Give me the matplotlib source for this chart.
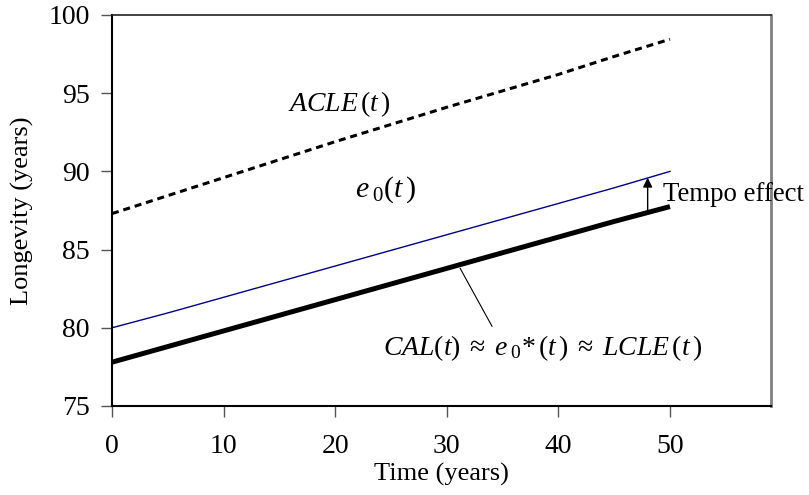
import numpy as np
import matplotlib.pyplot as plt

plt.rcParams['font.family'] = ['Liberation Serif', 'DejaVu Serif']
plt.rcParams['mathtext.fontset'] = 'custom'
plt.rcParams['mathtext.rm'] = 'Liberation Serif'
plt.rcParams['mathtext.it'] = 'Liberation Serif:italic'
plt.rcParams['mathtext.fallback'] = 'stix'

# data
t = [0, 5, 10, 15, 20, 25, 30, 35, 40, 45, 50]
acle = [87.3, 88.45, 89.6, 90.75, 91.9, 93.0, 94.1, 95.15, 96.2, 97.35, 98.45]
e0 = [80.0, 80.95, 81.95, 82.95, 83.95, 84.95, 85.95, 86.95, 87.95, 88.95, 90.0]
cal = [77.8, 78.8, 79.8, 80.8, 81.8, 82.8, 83.8, 84.8, 85.8, 86.8, 87.75]

x_ticks = [0, 10, 20, 30, 40, 50]
y_ticks = [75, 80, 85, 90, 95, 100]

fs = 19
mfs = 20

fig = plt.figure(figsize=(8.09, 4.95), dpi=100)
ax = fig.add_axes([0.1384, 0.1798, 0.8146, 0.7899])

ax.plot(t, acle, color='black', lw=2.2, linestyle=(0, (2.3, 1.6)))
ax.plot(t, e0, color='#00008B', lw=1.0)
ax.plot(t, cal, color='black', lw=3.6, solid_capstyle='butt')

# tempo effect arrow
ax.annotate('', xy=(48, 89.6), xytext=(48, 87.45),
            arrowprops=dict(arrowstyle='-|>', color='black', lw=1.0,
                            mutation_scale=14, shrinkA=0, shrinkB=0))
ax.text(49.4, 88.5, 'Tempo effect', fontsize=19.4, ha='left', va='center')

# leader line for CAL label
ax.plot([31.2, 34.05], [83.8, 80.1], color='black', lw=0.8)

ax.text(20.4, 94.3, r'$ACLE\,(t\,)$', fontsize=mfs, ha='center', va='center')
ax.text(24.5, 88.8, r'$e_{\;0}(t\,)$', fontsize=mfs + 1.5, ha='center', va='center')
ax.text(24.3, 78.7,
        r'$CAL(t)\;\approx\;e_{\;0}{*}\,(t\,)\;\approx\;LCLE\,(t\,)$',
        fontsize=mfs, ha='left', va='center')

ax.set_xlim(0, 59.05)
ax.set_ylim(75, 100)
ax.set_xticks(x_ticks)
ax.set_yticks(y_ticks)
ax.tick_params(direction='out', length=8, width=1, color='#555555',
               labelsize=20)
ax.tick_params(axis='x', pad=12)
ax.tick_params(axis='y', pad=8)

for side in ['left', 'bottom']:
    ax.spines[side].set_linewidth(1.5)
    ax.spines[side].set_color('black')
ax.spines['top'].set_linewidth(1.2)
ax.spines['top'].set_color('#222222')
ax.spines['right'].set_linewidth(2)
ax.spines['right'].set_color('#808080')

ax.set_xlabel('Time (years)', fontsize=fs, labelpad=3)
ax.set_ylabel('Longevity (years)', fontsize=fs, labelpad=10)

fig.savefig('out.png', dpi=100)
